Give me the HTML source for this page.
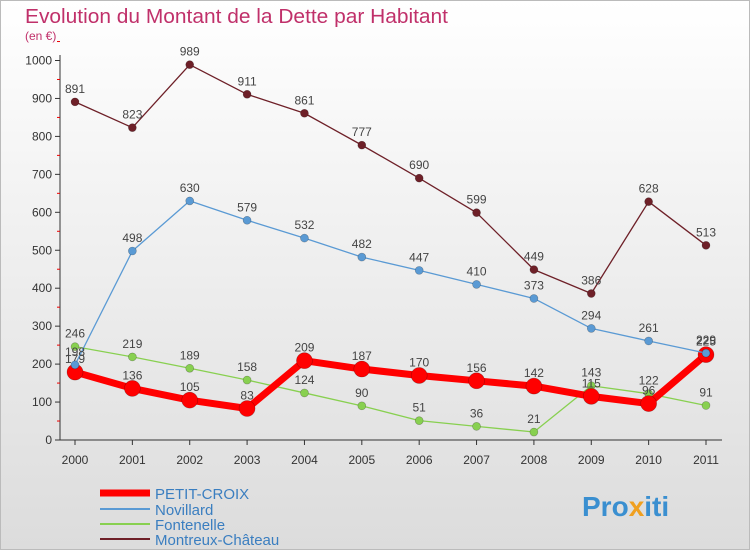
<!DOCTYPE html>
<html><head><meta charset="utf-8"><style>
body{margin:0}
svg{display:block;font-family:"Liberation Sans",sans-serif}
</style></head><body>
<svg id="c" width="750" height="550" xmlns="http://www.w3.org/2000/svg">
<defs><linearGradient id="bg" x1="0" y1="0" x2="0" y2="1"><stop offset="0" stop-color="#ffffff"/><stop offset="1" stop-color="#dcdcdc"/></linearGradient></defs>
<rect x="0.5" y="0.5" width="749" height="549" fill="url(#bg)" stroke="#bbb"/>
<text x="25" y="23" font-size="20" textLength="423" lengthAdjust="spacingAndGlyphs" fill="#c0306a">Evolution du Montant de la Dette par Habitant</text>
<text x="25" y="40" font-size="12" fill="#c0306a">(en €)</text>
<g id="axes"></g><g id="series"></g>
<g>
<line x1="100" y1="493" x2="150" y2="493" stroke="#f00" stroke-width="7"/><text x="155" y="499" font-size="15" fill="#3a7ec0">PETIT-CROIX</text>
<line x1="100" y1="509" x2="150" y2="509" stroke="#5a9ad4" stroke-width="2"/><text x="155" y="515" font-size="15" fill="#3a7ec0">Novillard</text>
<line x1="100" y1="524" x2="150" y2="524" stroke="#88d050" stroke-width="2"/><text x="155" y="530" font-size="15" fill="#3a7ec0">Fontenelle</text>
<line x1="100" y1="539" x2="150" y2="539" stroke="#6e2028" stroke-width="2"/><text x="155" y="545" font-size="15" fill="#3a7ec0">Montreux-Château</text>
</g>
<text x="582" y="516" font-size="28" font-weight="bold" fill="#3a8fd0">Pro<tspan fill="#f0a020">x</tspan>iti</text>
</svg>
<script>
const years=[2000,2001,2002,2003,2004,2005,2006,2007,2008,2009,2010,2011];
const petit=[179,136,105,83,209,187,170,156,142,115,96,225];
const novillard=[198,498,630,579,532,482,447,410,373,294,261,229];
const fontenelle=[246,219,189,158,124,90,51,36,21,143,122,91];
const montreux=[891,823,989,911,861,777,690,599,449,386,628,513];
const yTicks=[0,100,200,300,400,500,600,700,800,900,1000];
const NS="http://www.w3.org/2000/svg";
const X=i=>75+i*(706-75)/(years.length-1);
const Y=v=>440-v*0.3795;
function mk(tag,at,parent){const e=document.createElementNS(NS,tag);for(const k in at)e.setAttribute(k,at[k]);parent.appendChild(e);return e;}
const ax=document.getElementById('axes');
let l=mk('line',{x1:60,y1:440,x2:722,y2:440,stroke:'#333'},ax);


l=mk('line',{x1:60,y1:440,x2:60,y2:55,stroke:'#333'},ax);


yTicks.forEach(t=>{
 mk('line',{x1:55,y1:Y(t),x2:60,y2:Y(t),stroke:'#333'},ax);
 mk('line',{x1:57,y1:Y(t+50),x2:60,y2:Y(t+50),stroke:'#e00'},ax);
 const tx=mk('text',{x:52,y:Y(t)+4,'font-size':12,'text-anchor':'end',fill:'#333'},ax);tx.textContent=t;
 
 
});
years.forEach((y,i)=>{
 mk('line',{x1:X(i),y1:440,x2:X(i),y2:445,stroke:'#333'},ax);
 const tx=mk('text',{x:X(i),y:464,'font-size':12,'text-anchor':'middle',fill:'#333'},ax);tx.textContent=y;
 
 
});
const sg=document.getElementById('series');
function draw(vals,color,w,r,name){
 const g=mk('g',{},sg);
 
 
 mk('polyline',{points:vals.map((v,i)=>X(i)+','+Y(v)).join(' '),fill:'none',stroke:color,'stroke-width':w,'stroke-linejoin':'round'},g);
 vals.forEach((v,i)=>{
  const c=mk('circle',{cx:X(i),cy:Y(v),r:r,fill:color,stroke:'rgba(0,0,0,0.3)','stroke-width':0.6},g);
  
  
  const t=mk('text',{x:X(i),y:Y(v)-9,'font-size':12,'text-anchor':'middle',fill:'#444'},g);t.textContent=v;
 });
}
draw(fontenelle,'#88d050',1.3,4,'series-fontenelle');
draw(petit,'#f00',7,8,'series-petit-croix');
draw(novillard,'#5a9ad4',1.3,4,'series-novillard');
draw(montreux,'#6e2028',1.3,4,'series-montreux');
</script>
</body></html>
